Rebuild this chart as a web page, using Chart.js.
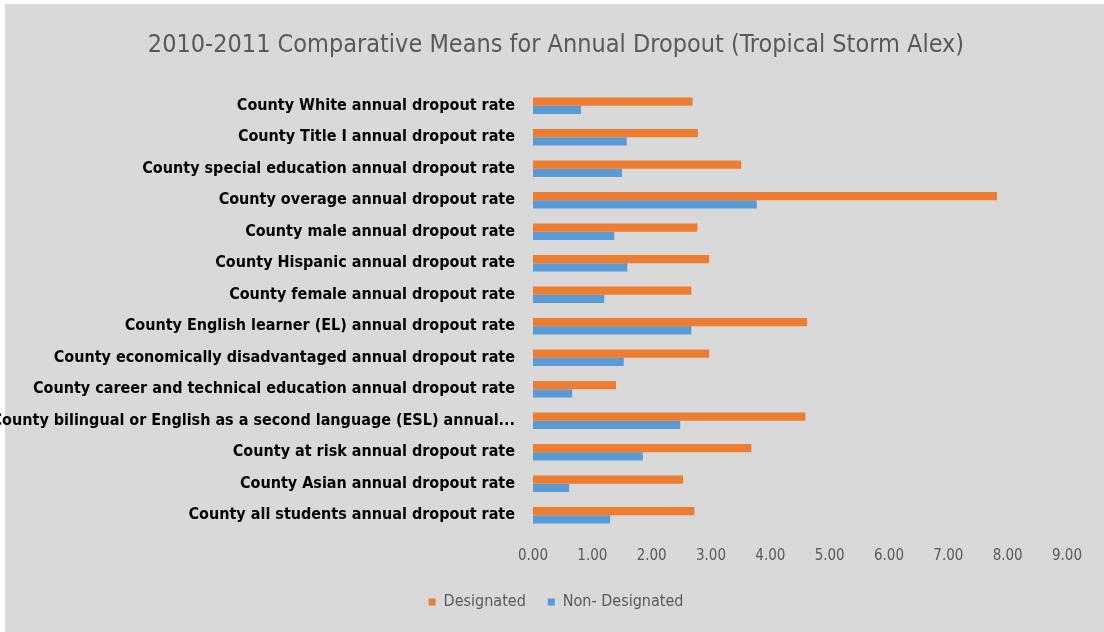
<!DOCTYPE html>
<html>
<head>
<meta charset="utf-8">
<script src="https://cdn.jsdelivr.net/npm/chart.js@4/dist/chart.umd.min.js"></script>
<style>
  html, body { margin: 0; padding: 0; background: #fff; }
  #wrap { position: relative; width: 1104px; height: 632px; }
</style>
</head>
<body>
<div id="wrap"><canvas id="chart" width="1104" height="632"></canvas></div>
<script>
const CATEGORIES = [
  "County White annual dropout rate",
  "County Title I annual dropout rate",
  "County special education annual dropout rate",
  "County overage annual dropout rate",
  "County male annual dropout rate",
  "County Hispanic annual dropout rate",
  "County female annual dropout rate",
  "County English learner (EL) annual dropout rate",
  "County economically disadvantaged annual dropout rate",
  "County career and technical education annual dropout rate",
  "County bilingual or English as a second language (ESL) annual dropout rate",
  "County at risk annual dropout rate",
  "County Asian annual dropout rate",
  "County all students annual dropout rate",
];

const DESIGNATED = [2.69, 2.78, 3.51, 7.82, 2.77, 2.97, 2.67, 4.62, 2.97, 1.40, 4.59, 3.68, 2.53, 2.72];
const NON_DESIGNATED = [0.81, 1.58, 1.50, 3.77, 1.37, 1.59, 1.20, 2.67, 1.53, 0.66, 2.48, 1.85, 0.61, 1.30];

const X_MIN = 0;
const X_MAX = 9;
const X_STEP = 1;

const ORANGE = "#ED7D31";
const BLUE = "#5B9BD5";
const TEXT_GRAY = "#595959";
const BG = "#D9D9D9";
const FONT = "'Liberation Sans Narrow', 'DejaVu Sans Condensed', 'Open Sans', sans-serif";

// grey panel with the thin white frame of the original picture
const background = {
  id: "background",
  beforeDraw(chart) {
    const { ctx, width, height } = chart;
    ctx.save();
    ctx.fillStyle = "#fff";
    ctx.fillRect(0, 0, width, height);
    ctx.fillStyle = BG;
    ctx.fillRect(5, 4, width - 5, height - 4);
    ctx.restore();
  },
};

// long category labels run into the left padding, so don't clip them there
const unclipLabels = {
  id: "unclipLabels",
  afterLayout(chart) {
    chart.scales.y.left = 0;
  },
};

new Chart(document.getElementById("chart"), {
  type: "bar",
  data: {
    labels: CATEGORIES,
    datasets: [
      {
        label: "Designated",
        data: DESIGNATED,
        backgroundColor: ORANGE,
        categoryPercentage: 0.52,
        barPercentage: 1.0,
      },
      {
        label: "Non- Designated",
        data: NON_DESIGNATED,
        backgroundColor: BLUE,
        categoryPercentage: 0.52,
        barPercentage: 1.0,
      },
    ],
  },
  options: {
    indexAxis: "y",
    responsive: false,
    animation: false,
    layout: { padding: { left: 45, right: 37, top: 0, bottom: 12 } },
    scales: {
      x: {
        min: X_MIN,
        max: X_MAX,
        grid: { display: false, drawTicks: false },
        border: { display: false },
        afterFit: (scale) => { scale.height -= 9; },
        ticks: {
          stepSize: X_STEP,
          padding: 16,
          color: TEXT_GRAY,
          font: { family: FONT, size: 15 },
          callback: (v) => Number(v).toFixed(2),
        },
      },
      y: {
        grid: { display: false, drawTicks: false },
        border: { display: false },
        afterFit: (scale) => { scale.width = 488; },
        ticks: {
          padding: 18,
          color: "#000",
          autoSkip: false,
          font: { family: FONT, size: 16, weight: "bold" },
          callback(value) {
            const label = this.getLabelForValue(value);
            return label.length > 61 ? label.slice(0, 61) + "..." : label;
          },
        },
      },
    },
    plugins: {
      title: {
        display: true,
        text: "2010-2011 Comparative Means for Annual Dropout (Tropical Storm Alex)",
        color: TEXT_GRAY,
        font: { family: FONT, size: 25, weight: "normal" },
        padding: { top: 30, bottom: 30 },
      },
      legend: {
        position: "bottom",
        labels: {
          boxWidth: 7,
          boxHeight: 7,
          color: TEXT_GRAY,
          padding: 22,
          font: { family: FONT, size: 16 },
        },
      },
      tooltip: { enabled: false },
    },
  },
  plugins: [background, unclipLabels],
});
</script>
</body>
</html>
